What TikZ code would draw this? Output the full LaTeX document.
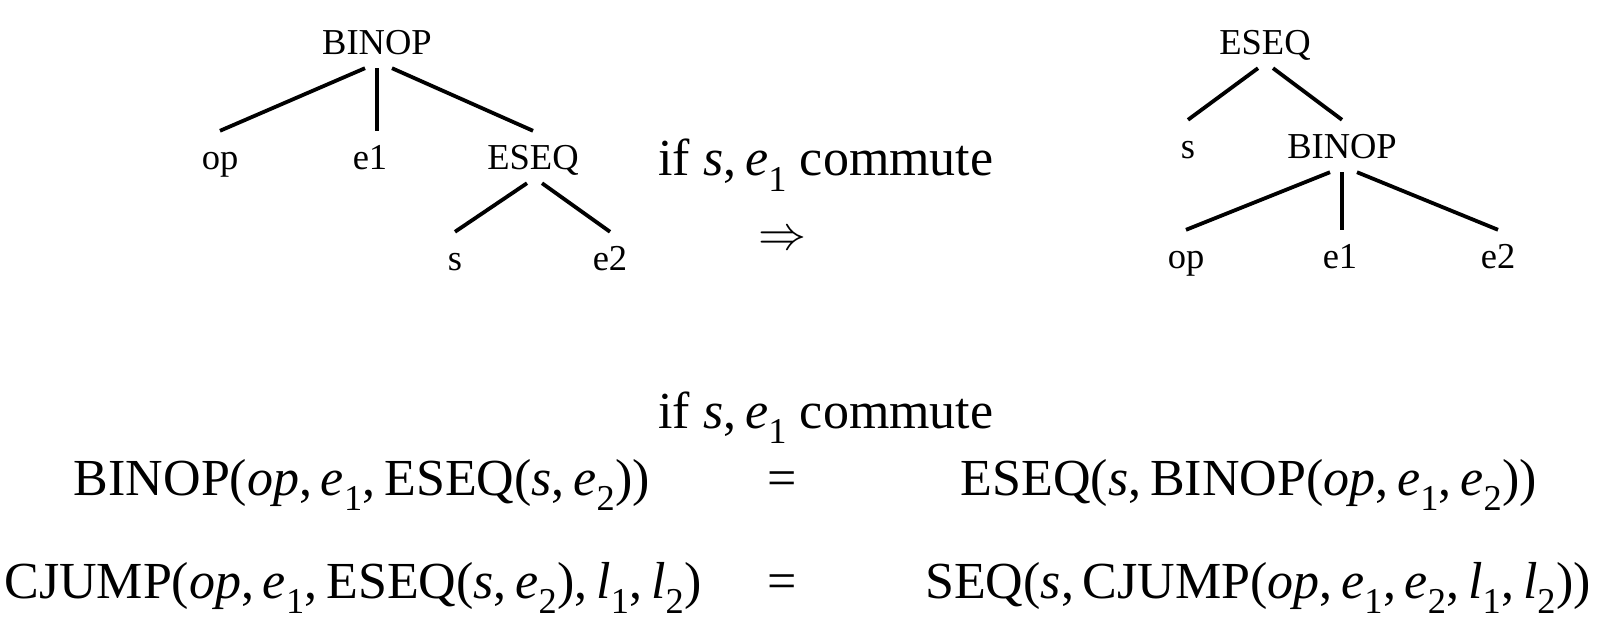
\documentclass[tikz,border=0pt]{standalone}
\usepackage{graphicx}
\usepackage{fontspec}
\setmainfont{Liberation Serif}
\newcommand\mi[1]{\textit{#1}}
\newcommand\subs[1]{\textsubscript{#1}}
\newcommand\cm{,\,}
\begin{document}
\begin{tikzpicture}[x=1pt,y=-1pt,
  lbl/.style={anchor=base,inner sep=5pt,text height=34pt,text depth=8pt,font=\fontsize{36.5}{40}\selectfont},
  big/.style={anchor=base,inner sep=0pt,font=\fontsize{52}{58}\selectfont},
  edge/.style={line width=3.8pt}]
\useasboundingbox (0,0) rectangle (1606,620);
% left tree
\node[lbl] (lbinop) at (377,55) {BINOP};
\node[lbl] (lop) at (220,170) {op};
\node[lbl] (le1) at (370,170) {e1};
\node[lbl] (leseq) at (533,170) {ESEQ};
\node[lbl] (ls) at (455,271) {s};
\node[lbl] (le2) at (610,271) {e2};
\draw[edge] ([xshift=-12pt]lbinop.south) -- (lop.north);
\draw[edge] (lbinop.south) -- (lbinop.south |- le1.north);
\draw[edge] ([xshift=15pt]lbinop.south) -- (leseq.north);
\draw[edge] ([xshift=-6pt]leseq.south) -- (ls.north);
\draw[edge] ([xshift=9pt]leseq.south) -- (le2.north);
% right tree
\node[lbl] (reseq) at (1265,55) {ESEQ};
\node[lbl] (rs) at (1188,159) {s};
\node[lbl] (rbinop) at (1342,159) {BINOP};
\node[lbl] (rop) at (1186,269) {op};
\node[lbl] (re1) at (1340,269) {e1};
\node[lbl] (re2) at (1498,269) {e2};
\draw[edge] ([xshift=-7pt]reseq.south) -- (rs.north);
\draw[edge] ([xshift=8pt]reseq.south) -- (rbinop.north);
\draw[edge] ([xshift=-12pt]rbinop.south) -- (rop.north);
\draw[edge] (rbinop.south) -- (rbinop.south |- re1.north);
\draw[edge] ([xshift=15pt]rbinop.south) -- (re2.north);
% middle
\node[big] (cond1) at (826,176) {if \mi{s}\cm\mi{e}\subs{1} commute};
\node[anchor=center,inner sep=0pt] (arrow) at (782,250) {\scalebox{4.8}{\smash{$\Rightarrow$}}};
% equations
\node[big] (cond2) at (826,428) {if \mi{s}\cm\mi{e}\subs{1} commute};
\node[big] (l2) at (362,495) {BINOP(\mi{op}\cm\mi{e}\subs{1}\cm ESEQ(\mi{s}\cm\mi{e}\subs{2}))};
\node[big] (eq2) at (782,495) {=};
\node[big] (r2) at (1249,495) {ESEQ(\mi{s}\cm BINOP(\mi{op}\cm\mi{e}\subs{1}\cm\mi{e}\subs{2}))};
\node[big] (l3) at (353,598) {CJUMP(\mi{op}\cm\mi{e}\subs{1}\cm ESEQ(\mi{s}\cm\mi{e}\subs{2})\cm\mi{l}\subs{1}\cm\mi{l}\subs{2})};
\node[big] (eq3) at (782,598) {=};
\node[big] (r3) at (1258,598) {SEQ(\mi{s}\cm CJUMP(\mi{op}\cm\mi{e}\subs{1}\cm\mi{e}\subs{2}\cm\mi{l}\subs{1}\cm\mi{l}\subs{2}))};
\end{tikzpicture}
\end{document}
